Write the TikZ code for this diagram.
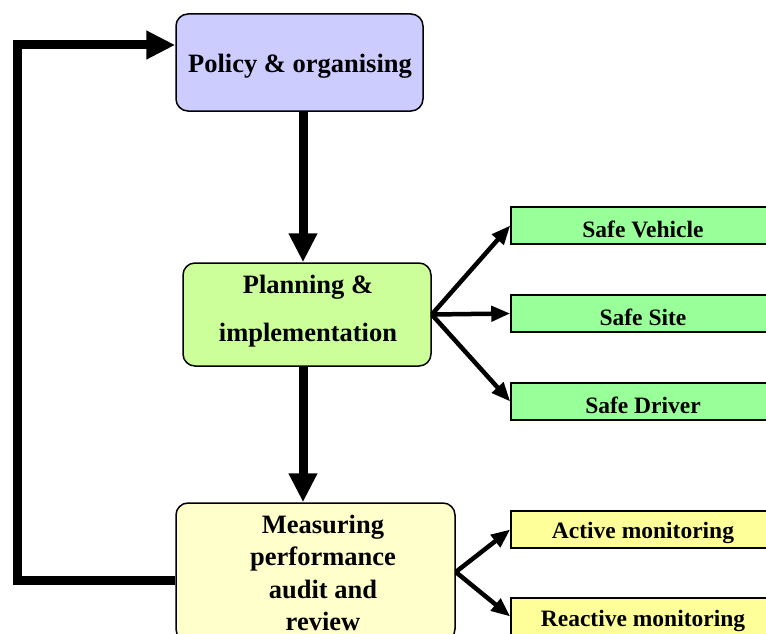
\documentclass[tikz,border=0pt]{standalone}
\usepackage{fontspec}
\setmainfont{Liberation Serif}
\usetikzlibrary{arrows.meta}
\definecolor{policyc}{HTML}{CCCCFF}
\definecolor{planc}{HTML}{CCFF99}
\definecolor{measc}{HTML}{FFFFCC}
\definecolor{safec}{HTML}{99FF99}
\definecolor{monc}{HTML}{FFFF99}
\begin{document}
\begin{tikzpicture}[x=1pt,y=-1pt,
  bigbox/.style={draw=black, line width=1.5pt, rounded corners=12pt, inner sep=0pt},
  sidebox/.style={draw=black, line width=1.5pt, inner sep=0pt, minimum width=262pt, minimum height=37pt},
  bigtext/.style={font=\bfseries\fontsize{26.5}{30}\selectfont, align=center, inner sep=0pt},
  sidetext/.style={font=\bfseries\fontsize{23.5}{28}\selectfont, inner sep=0pt},
  bigarrow/.style={line width=9pt, line join=miter, -{Triangle[length=29pt,width=27pt]}},
  smallarrow/.style={line width=4.5pt, -{Triangle[length=19pt,width=15pt]}}]
\useasboundingbox (0,0) rectangle (766,634);
\clip (0,0) rectangle (766,634);
% boxes
\node[bigbox, fill=policyc, minimum width=247pt, minimum height=97pt] (policy) at (299.5,62.5) {};
\node[bigbox, fill=planc, minimum width=248pt, minimum height=103pt] (planning) at (307,314.5) {};
\node[bigbox, fill=measc, minimum width=279pt, minimum height=138pt] (measuring) at (315.5,572) {};
\node[sidebox, fill=safec] (vehicle) at (642,225.5) {};
\node[sidebox, fill=safec] (site) at (642,313.5) {};
\node[sidebox, fill=safec] (driver) at (642,401.5) {};
\node[sidebox, fill=monc] (active) at (642,529.5) {};
\node[sidebox, fill=monc] (reactive) at (642,616.5) {};
% texts
\node[bigtext] (tpolicy) at (300,66) {Policy \& organising};
\node[bigtext, font=\bfseries\fontsize{26.5}{48}\selectfont] (tplan) at (308,311) {Planning \&\\implementation};
\node[bigtext, font=\bfseries\fontsize{26.5}{32.5}\selectfont] (tmeas) at (323,573) {Measuring\\performance\\audit and\\review};
\node[sidetext] (tvehicle) at (643,229) {Safe Vehicle};
\node[sidetext] (tsite) at (643,317) {Safe Site};
\node[sidetext] (tdriver) at (643,405) {Safe Driver};
\node[sidetext] (tactive) at (643,533) {Active monitoring};
\node[sidetext] (treactive) at (643,621) {Reactive monitoring};
% connectors
\coordinate (ax) at (303,0);
\coordinate (fb) at (0,580);
\coordinate (loopx) at (17,0);
\coordinate (pin) at (0,45);
\draw[bigarrow] (policy.south -| ax) -- (planning.north -| ax);
\draw[bigarrow] (planning.south -| ax) -- (measuring.north -| ax);
\draw[bigarrow] (measuring.west |- fb) -| (loopx |- pin) -- (policy.west |- pin);
\draw[smallarrow] (planning.east) -- (vehicle.west);
\draw[smallarrow] (planning.east) -- (site.west);
\draw[smallarrow] (planning.east) -- (driver.west);
\draw[smallarrow] (measuring.east) -- (active.west);
\draw[smallarrow] (measuring.east) -- (reactive.west);
\end{tikzpicture}
\end{document}
